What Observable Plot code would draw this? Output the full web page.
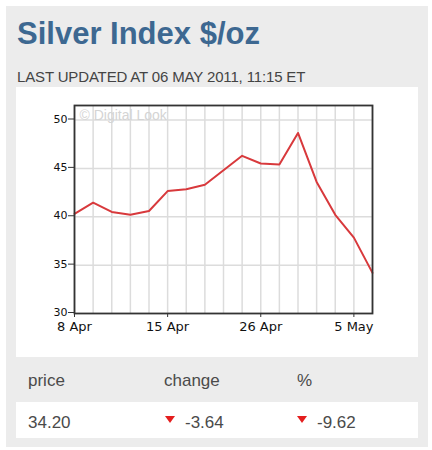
<!DOCTYPE html>
<html>
<head>
<meta charset="utf-8">
<script src="https://cdn.jsdelivr.net/npm/d3@7"></script>
<script src="https://cdn.jsdelivr.net/npm/@observablehq/plot@0.6"></script>
<style>
  html, body { margin: 0; padding: 0; background: #ffffff; }
  body { width: 432px; height: 450px; position: relative; overflow: hidden; font-family: "Liberation Sans", Arial, sans-serif; }
  #panel { position: absolute; left: 6px; top: 6px; width: 422px; height: 441px; background: #ececec; }
  #title { position: absolute; left: 17px; top: 18px; font-size: 31px; line-height: 31px; font-weight: bold; color: #3d6891; white-space: nowrap; }
  #subtitle { position: absolute; left: 17px; top: 69px; font-size: 15px; line-height: 15px; color: #444; white-space: nowrap; letter-spacing: -0.15px; }
  #chartbox { position: absolute; left: 16px; top: 87px; width: 402px; height: 270px; background: #fff; }
  #chartbox svg { display: block; }
  .hdr { position: absolute; top: 372px; font-size: 17px; line-height: 17px; color: #4a4a4a; white-space: nowrap; }
  #row { position: absolute; left: 16px; top: 402px; width: 402px; height: 36px; background: #fff; }
  .val { position: absolute; top: 414px; font-size: 17px; line-height: 17px; color: #4a4a4a; white-space: nowrap; }
  .tri { position: absolute; top: 416px; width: 0; height: 0; border-left: 5px solid transparent; border-right: 5px solid transparent; border-top: 7px solid #e41e1e; }
</style>
</head>
<body>
<div id="panel"></div>
<div id="title"></div>
<div id="subtitle"></div>
<div id="chartbox"></div>
<div id="row"></div>
<div id="hdr-price" class="hdr" style="left:28px"></div>
<div id="hdr-change" class="hdr" style="left:164px"></div>
<div id="hdr-pct" class="hdr" style="left:297px"></div>
<div id="v-price" class="val" style="left:28px"></div>
<div class="tri" style="left:165px"></div>
<div id="v-change" class="val" style="left:185px"></div>
<div class="tri" style="left:297px"></div>
<div id="v-pct" class="val" style="left:317px"></div>
<script>
// ---- Data ----
const titleText = "Silver Index $/oz";
const subtitleText = "LAST UPDATED AT 06 MAY 2011, 11:15 ET";
const watermark = "© Digital Look";

// trading days shown on the chart
const dateLabels = ["8 Apr", "11 Apr", "12 Apr", "13 Apr", "14 Apr", "15 Apr",
  "18 Apr", "19 Apr", "20 Apr", "21 Apr", "26 Apr", "27 Apr", "28 Apr",
  "3 May", "4 May", "5 May", "6 May"];
const prices = [40.3, 41.45, 40.5, 40.2, 40.6, 42.65, 42.85, 43.3, 44.8, 46.3,
  45.5, 45.4, 48.66, 43.6, 40.2, 37.84, 34.2];

const xTickLabels = ["8 Apr", "15 Apr", "26 Apr", "5 May"];
const yTicks = [30, 35, 40, 45, 50];
const yGrid = [35, 40, 45, 50];

const headers = ["price", "change", "%"];
const summary = ["34.20", "-3.64", "-9.62"];

// ---- Text ----
document.getElementById("title").textContent = titleText;
document.getElementById("subtitle").textContent = subtitleText;
document.getElementById("hdr-price").textContent = headers[0];
document.getElementById("hdr-change").textContent = headers[1];
document.getElementById("hdr-pct").textContent = headers[2];
document.getElementById("v-price").textContent = summary[0];
document.getElementById("v-change").textContent = summary[1];
document.getElementById("v-pct").textContent = summary[2];

// ---- Chart ----
const data = prices.map((v, i) => ({i, v, date: dateLabels[i]}));
const xTicks = xTickLabels.map(l => dateLabels.indexOf(l));
const xGrid = dateLabels.map((d, i) => i);

const chart = Plot.plot({
  width: 402,
  height: 270,
  marginLeft: 58,
  marginRight: 46,
  marginTop: 18,
  marginBottom: 44,
  style: {fontFamily: "'DejaVu Sans', sans-serif", fontSize: "11px", color: "#111", background: "transparent", overflow: "visible"},
  x: {domain: [0, dateLabels.length - 1], label: null},
  y: {domain: [30, 51.5], label: null},
  marks: [
    Plot.gridX(xGrid, {stroke: "#dcdcdc", strokeOpacity: 1, strokeWidth: 1.5}),
    Plot.gridY(yGrid, {stroke: "#dcdcdc", strokeOpacity: 1, strokeWidth: 1.5}),
    Plot.text([watermark], {frameAnchor: "top-left", dx: 5, dy: 5, lineAnchor: "top", textAnchor: "start", fill: "#d4d4d4", fontSize: 14, fontFamily: "'Liberation Sans', Arial, sans-serif"}),
    Plot.line(data, {x: "i", y: "v", stroke: "#d8393c", strokeWidth: 2}),
    Plot.frame({stroke: "#333", strokeWidth: 1.8}),
    Plot.axisY(yTicks, {tickSize: 6, tickPadding: 1, fontSize: 11, stroke: "#333", dy: -1}),
    Plot.axisX(xTicks, {tickSize: 4, tickPadding: 4, fontSize: 13, stroke: "#333", tickFormat: i => dateLabels[i]})
  ]
});
document.getElementById("chartbox").appendChild(chart);
</script>
</body>
</html>
